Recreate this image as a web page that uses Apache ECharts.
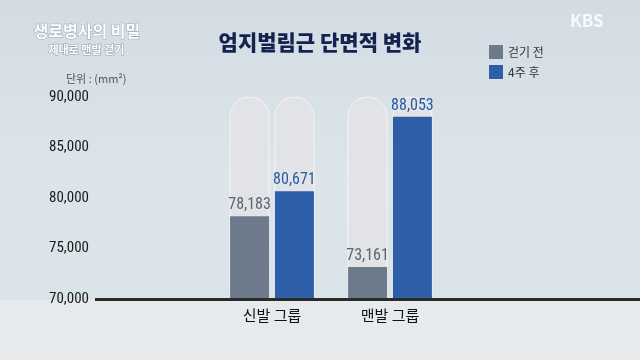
<!DOCTYPE html>
<html><head><meta charset="utf-8">
<script src="https://cdn.jsdelivr.net/npm/echarts@6/dist/echarts.min.js"></script>
<style>html,body{margin:0;padding:0}#c{width:640px;height:360px}</style>
</head><body><div id="c"></div>
<script>
const categories = ['신발 그룹', '맨발 그룹'];
const seriesNames = ['걷기 전', '4주 후'];
const beforeValues = [78183, 73161];
const afterValues = [80671, 88053];
const yTicks = [70000, 75000, 80000, 85000, 90000];

const chart = echarts.init(document.getElementById('c'));
const font = '"Noto Sans CJK KR", "Noto Sans", sans-serif';
const numFont = '"Liberation Sans Narrow", "Roboto Condensed", "Noto Sans CJK KR", sans-serif';
const fmt = v => v.toLocaleString('en-US');
chart.setOption({
  backgroundColor: {type:'linear', x:0, y:0, x2:0, y2:1, colorStops:[
    {offset:0, color:'#d3dce2'}, {offset:0.5, color:'#dbe5ea'}, {offset:1, color:'#d9e2e7'}]},
  title: {text:'엄지벌림근 단면적 변화', left:'center', top:27,
    textStyle:{fontFamily:font, fontSize:21, fontWeight:900, color:'#13224e'}},
  legend: {orient:'vertical', left:484, top:40, itemWidth:14, itemHeight:14, itemGap:6,
    icon:'rect', data:seriesNames,
    textStyle:{fontFamily:font, fontSize:12, color:'#333'}},
  graphic: [
    {type:'rect', left:0, top:300, shape:{width:640, height:60}, style:{fill:'#e7eaec'}, z:0},
    {type:'rect', left:95, top:298, shape:{width:545, height:3}, style:{fill:'#2b2b2b'}, z:10},
    {type:'text', left:66, top:73, style:{text:'단위 : (mm²)', font:'11px ' + font, fill:'#555'}},
    {type:'text', left:33, top:22, style:{text:'생로병사의 비밀', font:'bold 16px ' + font, fill:'#ffffff', stroke:'#9aa6b4', lineWidth:1}},
    {type:'text', left:48, top:44, style:{text:'제대로 맨발 걷기', font:'bold 11px ' + font, fill:'#ffffff', stroke:'#8fa0b5', lineWidth:1}},
    {type:'text', left:570, top:12, style:{text:'KBS', font:'bold 17px ' + font, fill:'rgba(255,255,255,0.85)'}}
  ],
  grid: {left:213, right:191, top:97, bottom:61},
  xAxis: {type:'category', data:categories,
    axisLine:{show:false}, axisTick:{show:false},
    axisLabel:{fontFamily:font, fontSize:15, color:'#111', margin:9}},
  yAxis: {type:'value', min:70000, max:90000, interval:5000,
    axisLine:{show:false}, axisTick:{show:false}, splitLine:{show:false},
    axisLabel:{fontFamily:numFont, fontSize:15, color:'#1a1a1a', margin:124,
      formatter: v => yTicks.includes(v) ? fmt(v) : ''}},
  series: [
    {name:seriesNames[0], type:'bar', data:beforeValues, barWidth:39, barGap:'15%',
      itemStyle:{color:'#6d7a8c'},
      showBackground:true, backgroundStyle:{color:'#e2e3e6', borderRadius:[20,20,0,0], borderColor:'#f4f6f7', borderWidth:1},
      label:{show:true, position:'top', distance:3, formatter:p=>fmt(p.value), fontFamily:numFont, fontSize:16, color:'#5a6472'}},
    {name:seriesNames[1], type:'bar', data:afterValues, barWidth:39,
      itemStyle:{color:'#2f5ea8'},
      showBackground:true, backgroundStyle:{color:'#e2e3e6', borderRadius:[20,20,0,0], borderColor:'#f4f6f7', borderWidth:1},
      label:{show:true, position:'top', distance:3, formatter:p=>fmt(p.value), fontFamily:numFont, fontSize:16, color:'#2b5aa2'}}
  ]
});
</script></body></html>
